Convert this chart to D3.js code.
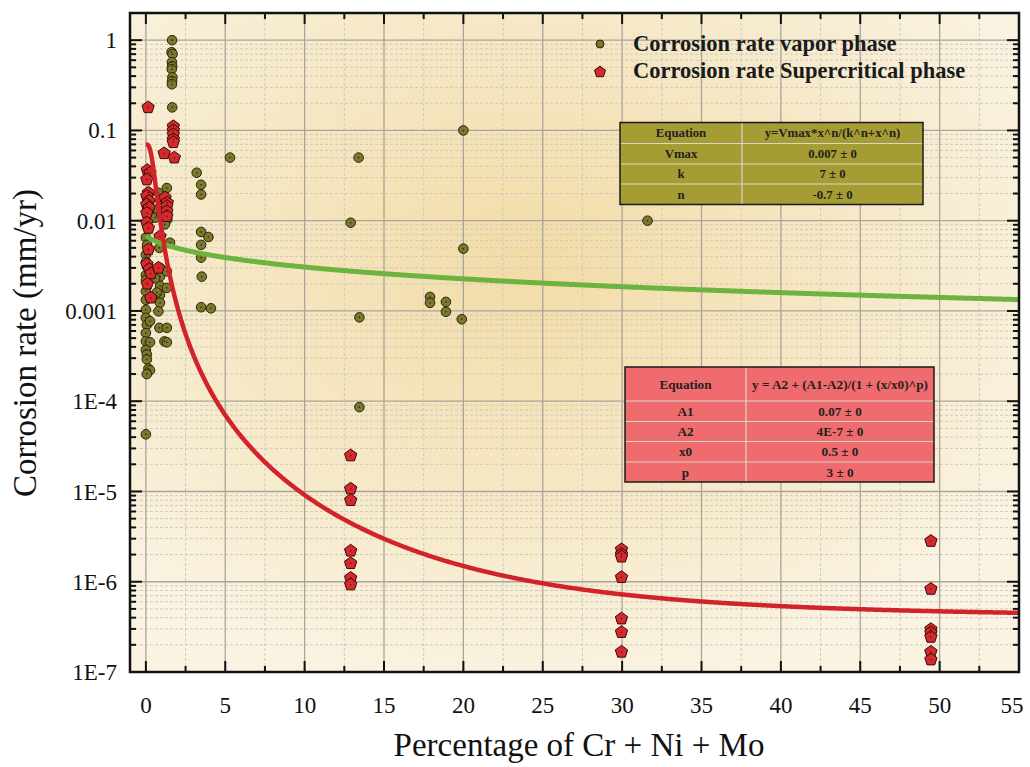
<!DOCTYPE html>
<html>
<head>
<meta charset="utf-8">
<script src="https://cdn.jsdelivr.net/npm/d3@7"></script>
<style>
  body { margin: 0; background: #fff; }
  text { font-family: "Liberation Serif", "Times New Roman", serif; }
</style>
</head>
<body>
<script>
(function() {

    //vapor phase measurements (x = % Cr+Ni+Mo, y = mm/yr)
    var vaporX = [1.65, 1.62, 1.68, 1.64, 1.66, 1.63, 1.67, 1.65, 1.64, 1.66,
        5.3, 13.4, 20.0, 12.9, 31.6, 20.0, 13.45, 17.9, 17.9, 18.9, 18.9, 19.9, 13.45, 0.0,
        3.2, 3.48, 3.48, 3.48, 3.94, 3.48, 3.48, 3.52, 3.48, 4.1,
        1.52, 1.32, 0.79, 1.35, 0.69, 0.58, 0.85, 0.89, 0.89, 0.89, 0.89, 0.89,
        1.32, 1.32, 0.58, 0.69, 0.79, 0.85, 1.32, 1.17, 1.32, 0.89, 0.96, 1.2,
        0.0, 0.0, 0.0, 0.0, 0.0, 0.0, 0.0, 0.06, 0.26, 0.0, 0.0, 0.26, 0.0, 0.06,
        0.06, 0.16, 0.26, 0.06, 0.01, 0.01, 0.08];
    var vaporY = [1.0, 0.736, 0.70, 0.57, 0.514, 0.477, 0.388, 0.351, 0.325, 0.18,
        0.050, 0.050, 0.10, 0.0095, 0.010, 0.0049, 0.00085, 0.00143, 0.00123, 0.00126, 0.00098, 0.00081, 8.6e-5, 4.3e-5,
        0.034, 0.025, 0.0195, 0.0075, 0.0066, 0.0054, 0.0039, 0.0024, 0.0011, 0.00107,
        0.0057, 0.023, 0.0204, 0.0103, 0.0133, 0.0108, 0.0050, 0.0030, 0.0024, 0.0019, 0.0015, 0.00123,
        0.0018, 0.00275, 0.0023, 0.0016, 0.00099, 0.00065, 0.00065, 0.00046, 0.00045, 0.0172, 0.0117, 0.0091,
        0.0065, 0.0042, 0.0025, 0.00165, 0.00133, 0.00103, 0.00084, 0.0007, 0.00077, 0.00057, 0.00046, 0.00045, 0.00037, 0.00033,
        0.00029, 0.00023, 0.00022, 0.0002, 0.0035, 0.0022, 0.0054];

    //supercritical phase measurements
    var scX = [0.14, 1.73, 1.73, 1.73, 1.73, 1.73, 1.15, 1.79,
        0.09, 0.26, 0.06, 0.16, 0.06, 0.2, 0.06, 0.2, 0.06, 0.06, 0.16, 0.16, 0.06, 0.22, 0.31, 0.09, 0.31,
        0.79, 0.89, 1.21, 1.35, 1.32, 1.32, 1.32,
        12.9, 12.9, 12.9, 12.9, 12.9, 12.9, 12.9,
        29.96, 29.96, 29.96, 29.96, 29.96, 29.96, 29.96,
        49.45, 49.45, 49.45, 49.45, 49.45, 49.45, 49.45];
    var scY = [0.18, 0.111, 0.100, 0.0906, 0.0797, 0.0738, 0.0557, 0.0499,
        0.0363, 0.034, 0.0286, 0.0204, 0.0187, 0.0165, 0.0151, 0.0139, 0.0122, 0.0095, 0.0083, 0.0048, 0.0033, 0.0029, 0.0026, 0.002, 0.0014,
        0.003, 0.0067, 0.018, 0.0158, 0.0145, 0.0127, 0.0112,
        2.5e-5, 1.07e-5, 8.0e-6, 2.2e-6, 1.6e-6, 1.1e-6, 9.3e-7,
        2.28e-6, 2.02e-6, 1.89e-6, 1.12e-6, 3.9e-7, 2.76e-7, 1.67e-7,
        2.82e-6, 8.3e-7, 2.98e-7, 2.73e-7, 2.44e-7, 1.67e-7, 1.37e-7];

    //fit parameters as printed in the tables
    var vaporFitParams = [0.007, 7, -0.7];       // Vmax, k, n
    var scFitParams = [0.07, 4e-7, 0.5, 3];      // A1, A2, x0, p

    //axis ticks
    var xTicks = [0, 5, 10, 15, 20, 25, 30, 35, 40, 45, 50, 55];
    var yTicks = [1e-7, 1e-6, 1e-5, 1e-4, 1e-3, 1e-2, 1e-1, 1];
    var yTickLabels = ["1E-7", "1E-6", "1E-5", "1E-4", "0.001", "0.01", "0.1", "1"];

    //table texts
    var vaporTable = [["Equation", "y=Vmax*x^n/(k^n+x^n)"], ["Vmax", "0.007 \u00b1 0"], ["k", "7 \u00b1 0"], ["n", "-0.7 \u00b1 0"]];
    var scTable = [["Equation", "y = A2 + (A1-A2)/(1 + (x/x0)^p)"], ["A1", "0.07 \u00b1 0"], ["A2", "4E-7 \u00b1 0"], ["x0", "0.5 \u00b1 0"], ["p", "3 \u00b1 0"]];

    var legendLabels = ["Corrosion rate vapor phase", "Corrosion rate Supercritical phase"];

    var width = 1030, height = 767;
    var left = 130, right = 1019, top = 13, bottom = 672;

    var svg = d3.select("body").append("svg")
        .attr("width", width)
        .attr("height", height);

    var x = d3.scaleLinear().domain([-1, 55]).range([left, right]);
    var y = d3.scaleLog().domain([1e-7, 2]).range([bottom, top]);

    //background gradient
    var defs = svg.append("defs");
    var grad = defs.append("radialGradient")
        .attr("id", "bg")
        .attr("cx", "0.45").attr("cy", "0.38").attr("r", "0.65")
        .attr("fx", "0.45").attr("fy", "0.38");
    grad.append("stop").attr("offset", "0").attr("stop-color", "#f2dba6");
    grad.append("stop").attr("offset", "0.55").attr("stop-color", "#f6e8c6");
    grad.append("stop").attr("offset", "1").attr("stop-color", "#faf3e2");

    svg.append("rect")
        .attr("x", left).attr("y", top)
        .attr("width", right - left).attr("height", bottom - top)
        .attr("fill", "url(#bg)");

    //minor grid
    var minorY = [];
    for (var e = -7; e <= 0; e++) {
        for (var m = 2; m <= 9; m++) {
            var v = m * Math.pow(10, e);
            if (v < 2) minorY.push(v);
        }
    }
    var minorX = xTicks.map(d => d + 2.5).filter(d => d < 55);

    var grid = svg.append("g").attr("class", "grid");
    grid.selectAll(".minorY").data(minorY).enter().append("line")
        .attr("x1", left).attr("x2", right)
        .attr("y1", d => y(d)).attr("y2", d => y(d))
        .attr("stroke", "#cfcabc").attr("stroke-width", 1)
        .attr("stroke-dasharray", "3,2");
    grid.selectAll(".minorX").data(minorX).enter().append("line")
        .attr("y1", top).attr("y2", bottom)
        .attr("x1", d => x(d)).attr("x2", d => x(d))
        .attr("stroke", "#cfcabc").attr("stroke-width", 1)
        .attr("stroke-dasharray", "3,2");
    grid.selectAll(".majorY").data(yTicks).enter().append("line")
        .attr("x1", left).attr("x2", right)
        .attr("y1", d => y(d)).attr("y2", d => y(d))
        .attr("stroke", "#a9a59b").attr("stroke-width", 1.3);
    grid.selectAll(".majorX").data(xTicks).enter().append("line")
        .attr("y1", top).attr("y2", bottom)
        .attr("x1", d => x(d)).attr("x2", d => x(d))
        .attr("stroke", "#a9a59b").attr("stroke-width", 1.3);

    //fit curves
    var curveXs = d3.range(0.02, 55.01, 0.05);
    var vaporCurve = curveXs.map(function(t) {
        var xn = Math.pow(t, vaporFitParams[2]);
        return [t, vaporFitParams[0] * xn / (Math.pow(vaporFitParams[1], vaporFitParams[2]) + xn)];
    });
    var scXs = d3.range(0, 3, 0.01).concat(d3.range(3, 55.01, 0.1));
    var scCurve = scXs.map(function(t) {
        return [t, scFitParams[1] + (scFitParams[0] - scFitParams[1]) / (1 + Math.pow(t / scFitParams[2], scFitParams[3]))];
    });
    var line = d3.line().x(d => x(d[0])).y(d => y(d[1]));

    //markers
    var pentagon = {
        draw: function(context, size) {
            var r = Math.sqrt(size / 2.378);
            for (var i = 0; i < 5; i++) {
                var a = -Math.PI / 2 + i * 2 * Math.PI / 5;
                if (i === 0) context.moveTo(r * Math.cos(a), r * Math.sin(a));
                else context.lineTo(r * Math.cos(a), r * Math.sin(a));
            }
            context.closePath();
        }
    };

    var vaporData = vaporX.map((d, i) => [d, vaporY[i]]);
    var scData = scX.map((d, i) => [d, scY[i]]);

    var vap = svg.append("g").attr("class", "vapor");
    vap.selectAll("circle").data(vaporData).enter().append("circle")
        .attr("cx", d => x(d[0])).attr("cy", d => y(d[1]))
        .attr("r", 4.8)
        .attr("fill", "#7a782a").attr("stroke", "#26260e").attr("stroke-width", 1);
    vap.selectAll(".dot").data(vaporData).enter().append("circle")
        .attr("cx", d => x(d[0])).attr("cy", d => y(d[1]))
        .attr("r", 0.8).attr("fill", "#26260e");

    var sc = svg.append("g").attr("class", "sc");
    sc.selectAll("path").data(scData).enter().append("path")
        .attr("d", d3.symbol().type(pentagon).size(100))
        .attr("transform", d => "translate(" + x(d[0]) + "," + y(d[1]) + ")")
        .attr("fill", "#d42a2c").attr("stroke", "#3a0808").attr("stroke-width", 1);
    sc.selectAll(".dot").data(scData).enter().append("circle")
        .attr("cx", d => x(d[0])).attr("cy", d => y(d[1]))
        .attr("r", 0.7).attr("fill", "#3a0808");

    svg.append("path").datum(vaporCurve)
        .attr("d", line).attr("fill", "none")
        .attr("stroke", "#6cb43f").attr("stroke-width", 5);
    svg.append("path").datum(scCurve)
        .attr("d", line).attr("fill", "none")
        .attr("stroke", "#d2232a").attr("stroke-width", 4.5);

    //axes with inward ticks on all four sides
    function ticks(g, vals, len, side) {
        g.selectAll(null).data(vals).enter().append("line")
            .attr("x1", d => side === "left" ? left : side === "right" ? right : x(d))
            .attr("x2", d => side === "left" ? left + len : side === "right" ? right - len : x(d))
            .attr("y1", d => side === "bottom" ? bottom : side === "top" ? top : y(d))
            .attr("y2", d => side === "bottom" ? bottom - len : side === "top" ? top + len : y(d))
            .attr("stroke", "#111").attr("stroke-width", 2);
    }
    var tk = svg.append("g").attr("class", "ticks");
    ticks(tk, yTicks, 12, "left");
    ticks(tk, minorY, 6, "left");
    ticks(tk, yTicks, 12, "right");
    ticks(tk, minorY, 6, "right");
    ticks(tk, xTicks, 11, "bottom");
    ticks(tk, minorX, 6, "bottom");
    ticks(tk, xTicks, 11, "top");
    ticks(tk, minorX, 6, "top");

    //frame
    svg.append("rect")
        .attr("x", left).attr("y", top)
        .attr("width", right - left).attr("height", bottom - top)
        .attr("fill", "none").attr("stroke", "#111").attr("stroke-width", 2.5);

    //tick labels
    svg.selectAll(".ylab").data(yTicks).enter().append("text")
        .attr("x", 117).attr("y", d => y(d))
        .attr("dy", "0.35em")
        .attr("text-anchor", "end")
        .attr("font-size", 23)
        .attr("fill", "#111")
        .text((d, i) => yTickLabels[i]);
    svg.selectAll(".xlab").data(xTicks).enter().append("text")
        .attr("x", d => Math.min(x(d), 1012)).attr("y", 713)
        .attr("text-anchor", "middle")
        .attr("font-size", 23)
        .attr("fill", "#111")
        .text(d => d);

    //axis titles
    svg.append("text")
        .attr("x", 579).attr("y", 756)
        .attr("text-anchor", "middle")
        .attr("font-size", 33)
        .attr("fill", "#111")
        .text("Percentage of Cr + Ni + Mo");
    svg.append("text")
        .attr("transform", "translate(36,343) rotate(-90)")
        .attr("text-anchor", "middle")
        .attr("font-size", 33)
        .attr("fill", "#111")
        .text("Corrosion rate (mm/yr)");

    //legend
    var lg = svg.append("g").attr("class", "legend");
    lg.append("circle").attr("cx", 600).attr("cy", 44).attr("r", 4)
        .attr("fill", "#7a782a").attr("stroke", "#26260e").attr("stroke-width", 1);
    lg.append("path").attr("d", d3.symbol().type(pentagon).size(80))
        .attr("transform", "translate(600,72)")
        .attr("fill", "#d42a2c").attr("stroke", "#3a0808").attr("stroke-width", 1);
    lg.selectAll("text").data(legendLabels).enter().append("text")
        .attr("x", 633).attr("y", (d, i) => 51 + i * 27)
        .attr("font-size", 22.5).attr("font-weight", "bold")
        .attr("fill", "#1a1a1a")
        .text(d => d);

    //parameter tables
    function drawTable(rows, x0, y0, colSplit, x1, rowEdges, fill, fs) {
        var g = svg.append("g");
        g.append("rect").attr("x", x0).attr("y", y0)
            .attr("width", x1 - x0).attr("height", rowEdges[rowEdges.length - 1] - y0)
            .attr("fill", fill);
        var edges = [y0].concat(rowEdges);
        g.selectAll(".hl").data(rowEdges.slice(0, -1)).enter().append("line")
            .attr("x1", x0).attr("x2", x1).attr("y1", d => d).attr("y2", d => d)
            .attr("stroke", "#d9d6cc").attr("stroke-width", 1.2);
        g.append("line").attr("x1", colSplit).attr("x2", colSplit)
            .attr("y1", y0).attr("y2", edges[edges.length - 1])
            .attr("stroke", "#d9d6cc").attr("stroke-width", 1.2);
        rows.forEach(function(r, i) {
            var cy = (edges[i] + edges[i + 1]) / 2;
            g.append("text").attr("x", (x0 + colSplit) / 2).attr("y", cy).attr("dy", "0.35em")
                .attr("text-anchor", "middle").attr("font-size", fs).attr("font-weight", "bold")
                .attr("fill", "#222").text(r[0]);
            g.append("text").attr("x", (colSplit + x1) / 2).attr("y", cy).attr("dy", "0.35em")
                .attr("text-anchor", "middle").attr("font-size", fs).attr("font-weight", "bold")
                .attr("fill", "#222").text(r[1]);
        });
        g.append("rect").attr("x", x0).attr("y", y0)
            .attr("width", x1 - x0).attr("height", edges[edges.length - 1] - y0)
            .attr("fill", "none").attr("stroke", "#1a1a1a").attr("stroke-width", 1.5);
    }
    drawTable(vaporTable, 620, 122.5, 742, 923, [143.5, 164, 184, 204.5], "#a69c34", 12.8);
    drawTable(scTable, 625, 367, 746, 934, [401, 421.5, 441.5, 462, 482], "#ef6b6d", 13.2);

})();
</script>
</body>
</html>
